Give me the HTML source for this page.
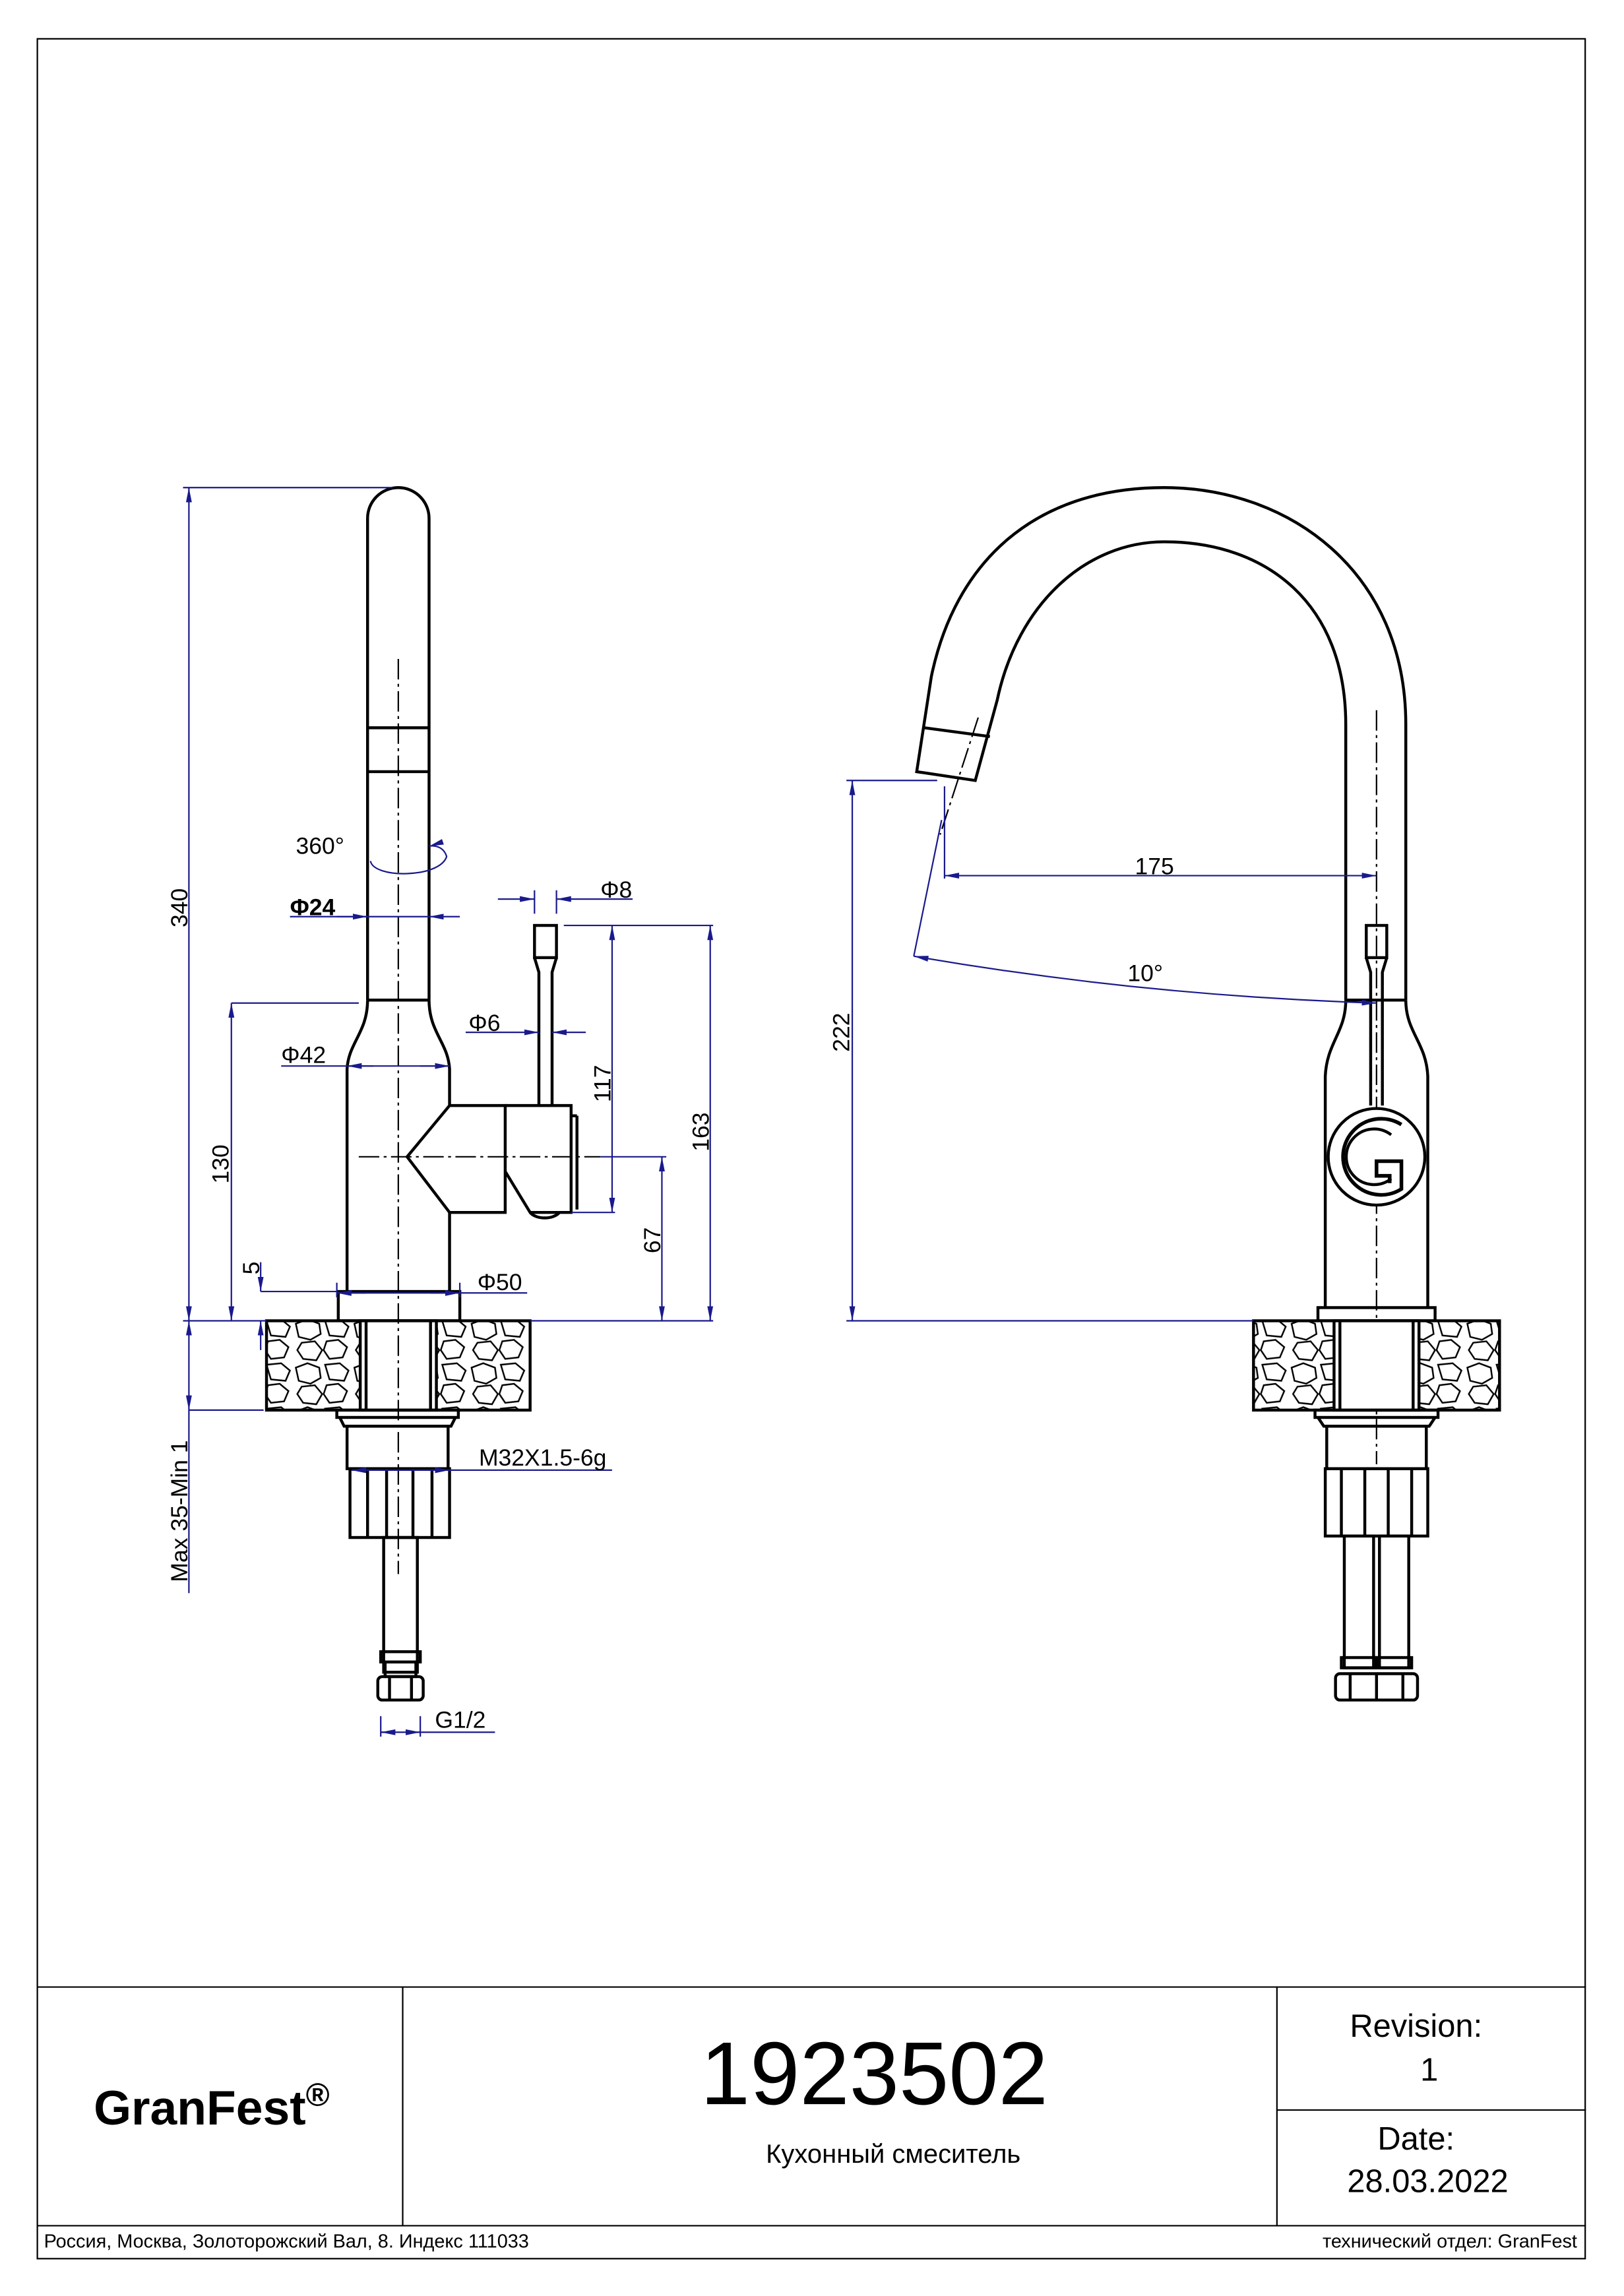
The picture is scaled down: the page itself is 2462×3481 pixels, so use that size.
<!DOCTYPE html>
<html><head><meta charset="utf-8"><style>
html,body{margin:0;padding:0;background:#fff}
svg{display:block}
text{font-family:"Liberation Sans",sans-serif}
</style></head><body>
<svg width="2462" height="3481" viewBox="0 0 1109 1568" xmlns="http://www.w3.org/2000/svg">
<defs>
<marker id="a" viewBox="0 0 10 6" refX="10" refY="3" markerWidth="10" markerHeight="6" orient="auto-start-reverse" markerUnits="userSpaceOnUse"><path d="M0,1 L10,3 L0,5 Z" fill="#1a1a8c"/></marker>
<pattern id="st" width="40" height="30" patternUnits="userSpaceOnUse">
<rect width="40" height="30" fill="#fff"/>
<path d="M2,4 L10,1 L18,4 L19,11 L12,15 L4,13 Z M22,2 L32,1 L38,6 L35,13 L25,12 Z M6,17 L15,16 L20,22 L16,29 L7,28 L3,22 Z M23,16 L31,15 L37,20 L34,27 L25,28 L21,22 Z" fill="none" stroke="#000" stroke-width="1.1"/>
</pattern>
</defs>
<rect width="1109" height="1568" fill="#fff"/>
<g fill="none" stroke="#000" stroke-width="1">
<rect x="25.5" y="26.5" width="1057" height="1516"/>
<line x1="25" y1="1357" x2="1083" y2="1357"/>
<line x1="25" y1="1520" x2="1083" y2="1520"/>
<line x1="275" y1="1357" x2="275" y2="1520"/>
<line x1="872" y1="1357" x2="872" y2="1520"/>
<line x1="872" y1="1441" x2="1083" y2="1441"/>
</g>
<text x="64" y="1451" font-size="33" font-weight="bold">GranFest<tspan font-size="22" dy="-13">®</tspan></text>
<text x="597" y="1437" font-size="61" text-anchor="middle">1923502</text>
<text x="610" y="1477" font-size="18" text-anchor="middle">Кухонный смеситель</text>
<text x="967" y="1391" font-size="22" text-anchor="middle">Revision:</text>
<text x="976" y="1421" font-size="22" text-anchor="middle">1</text>
<text x="967" y="1468" font-size="22" text-anchor="middle">Date:</text>
<text x="975" y="1497" font-size="22" text-anchor="middle">28.03.2022</text>
<text x="30" y="1535" font-size="13">Россия, Москва, Золоторожский Вал, 8. Индекс 111033</text>
<text x="1077" y="1535" font-size="13" text-anchor="end">технический отдел: GranFest</text>

<g fill="none" stroke="#000" stroke-width="2">
<path d="M251,683 L251,354 A21,21 0 0 1 293,354 L293,683"/>
<line x1="251" y1="497" x2="293" y2="497"/>
<line x1="251" y1="527" x2="293" y2="527"/>
<line x1="251" y1="683" x2="293" y2="683"/>
<path d="M251,683 C251,705 238,712 237,730 L237,882"/>
<path d="M293,683 C293,705 306,712 307,730 L307,755"/>
<path d="M307,828 L307,882"/>
<path d="M307,755 L345,755 L345,828 L307,828 L278,790 Z"/>
<path d="M345,755 L390,755 L390,828 L362,828 L345,800"/>
<line x1="390" y1="762" x2="394" y2="762"/><line x1="394" y1="762" x2="394" y2="826"/>
<path d="M362,828 C366,833 378,833 382,828"/>
<rect x="365" y="632" width="15" height="22"/>
<path d="M365,654 L368,664 L368,755 M380,654 L377,664 L377,755"/>
<rect x="231" y="882" width="83" height="20"/>
<rect x="182" y="902" width="180" height="61" fill="url(#st)"/>
<rect x="246" y="902" width="52" height="61" fill="#fff"/>
<line x1="250" y1="902" x2="250" y2="963"/><line x1="294" y1="902" x2="294" y2="963"/>
<rect x="230" y="963" width="83" height="5"/>
<path d="M232,968 L235,974 L308,974 L311,968"/>
<rect x="237" y="974" width="69" height="29"/>
<rect x="239" y="1003" width="68" height="47"/>
<line x1="251" y1="1003" x2="251" y2="1050"/><line x1="295" y1="1003" x2="295" y2="1050"/>
<line x1="264" y1="1003" x2="264" y2="1050"/><line x1="282" y1="1003" x2="282" y2="1050"/>
<rect x="262" y="1050" width="23" height="92"/>
<rect x="260" y="1128" width="27" height="7"/>
<rect x="263" y="1135" width="21" height="10"/>
<rect x="258" y="1145" width="31" height="16" rx="3"/>
<line x1="266" y1="1145" x2="266" y2="1161"/><line x1="281" y1="1145" x2="281" y2="1161"/>
</g>
<g stroke="#000" stroke-width="1" stroke-dasharray="14,3,2,3" fill="none">
<line x1="272" y1="450" x2="272" y2="1075"/>
<line x1="245" y1="790" x2="410" y2="790"/>
<line x1="940" y1="485" x2="940" y2="1000"/>
<line x1="668" y1="490" x2="642" y2="570"/>
</g>
<g stroke="#1a1a8c" stroke-width="1" fill="none">
<line x1="125" y1="333" x2="268" y2="333"/>
<line x1="129" y1="333" x2="129" y2="902" marker-start="url(#a)" marker-end="url(#a)"/>
<line x1="125" y1="902" x2="182" y2="902"/>
<line x1="362" y1="902" x2="487" y2="902"/>
<line x1="158" y1="685" x2="245" y2="685"/>
<line x1="158" y1="685" x2="158" y2="902" marker-start="url(#a)" marker-end="url(#a)"/>
<line x1="178" y1="862" x2="178" y2="882" marker-end="url(#a)"/>
<line x1="178" y1="882" x2="230" y2="882"/>
<line x1="178" y1="922" x2="178" y2="902" marker-end="url(#a)"/>
<line x1="129" y1="902" x2="129" y2="963" marker-start="url(#a)" marker-end="url(#a)"/>
<line x1="129" y1="963" x2="180" y2="963"/>
<line x1="129" y1="963" x2="129" y2="1088"/>
<line x1="198" y1="626" x2="293" y2="626"/>
<line x1="230" y1="626" x2="251" y2="626" marker-end="url(#a)"/><line x1="314" y1="626" x2="293" y2="626" marker-end="url(#a)"/>
<path d="M253,588 C255,600 300,600 305,585 C303,578 296,577 293,578" marker-end="url(#a)"/>
<line x1="192" y1="728" x2="307" y2="728"/>
<line x1="255" y1="728" x2="237" y2="728" marker-end="url(#a)"/><line x1="287" y1="728" x2="307" y2="728" marker-end="url(#a)"/>
<line x1="340" y1="614" x2="365" y2="614" marker-end="url(#a)"/>
<line x1="432" y1="614" x2="380" y2="614" marker-end="url(#a)"/>
<line x1="365" y1="608" x2="365" y2="624"/><line x1="380" y1="608" x2="380" y2="624"/>
<line x1="318" y1="705" x2="368" y2="705" marker-end="url(#a)"/>
<line x1="400" y1="705" x2="377" y2="705" marker-end="url(#a)"/>
<line x1="385" y1="632" x2="487" y2="632"/>
<line x1="418" y1="632" x2="418" y2="828" marker-start="url(#a)" marker-end="url(#a)"/>
<line x1="390" y1="828" x2="420" y2="828"/>
<line x1="485" y1="632" x2="485" y2="902" marker-start="url(#a)" marker-end="url(#a)"/>
<line x1="410" y1="790" x2="455" y2="790"/>
<line x1="452" y1="790" x2="452" y2="902" marker-start="url(#a)" marker-end="url(#a)"/>
<line x1="230" y1="883" x2="360" y2="883"/>
<line x1="250" y1="883" x2="230" y2="883" marker-end="url(#a)"/><line x1="294" y1="883" x2="314" y2="883" marker-end="url(#a)"/>
<line x1="230" y1="876" x2="230" y2="886"/><line x1="314" y1="876" x2="314" y2="886"/>
<line x1="240" y1="1004" x2="418" y2="1004"/>
<line x1="260" y1="1004" x2="240" y2="1004" marker-end="url(#a)"/><line x1="287" y1="1004" x2="307" y2="1004" marker-end="url(#a)"/>
<line x1="260" y1="1183" x2="338" y2="1183"/>
<line x1="260" y1="1172" x2="260" y2="1186"/><line x1="287" y1="1172" x2="287" y2="1186"/>
<line x1="268" y1="1183" x2="260" y2="1183" marker-end="url(#a)"/><line x1="279" y1="1183" x2="287" y2="1183" marker-end="url(#a)"/>
</g>
<g font-size="16" fill="#000">
<text transform="translate(128,620) rotate(-90)" text-anchor="middle">340</text>
<text transform="translate(156,795) rotate(-90)" text-anchor="middle">130</text>
<text transform="translate(177,866) rotate(-90)" text-anchor="middle">5</text>
<text transform="translate(128,1032) rotate(-90)" text-anchor="middle">Max 35-Min 1</text>
<text transform="translate(417,740) rotate(-90)" text-anchor="middle">117</text>
<text transform="translate(484,773) rotate(-90)" text-anchor="middle">163</text>
<text transform="translate(451,847) rotate(-90)" text-anchor="middle">67</text>
<text x="202" y="583">360°</text>
<text x="198" y="625" font-weight="bold">Φ24</text>
<text x="410" y="613">Φ8</text>
<text x="320" y="704">Φ6</text>
<text x="192" y="726">Φ42</text>
<text x="326" y="881">Φ50</text>
<text x="327" y="1001">M32X1.5-6g</text>
<text x="297" y="1180">G1/2</text>
<text x="775" y="597">175</text>
<text x="770" y="670">10°</text>
<text transform="translate(580,705) rotate(-90)" text-anchor="middle">222</text>
</g>

<g fill="none" stroke="#000" stroke-width="2">
<path d="M960,683 L960,495 C960,390 880,333 795,333 C705,333 652,385 636,462 L626,527 L666,533 L681,478 C695,412 742,370 795,370 C865,370 919,412 919,495 L919,683"/>
<line x1="631" y1="497" x2="676" y2="503"/>
<line x1="919" y1="683" x2="960" y2="683"/>
<path d="M919,683 C919,705 906,712 905,735 L905,893"/>
<path d="M960,683 C960,705 974,712 975,735 L975,893"/>
<rect x="933" y="632" width="14" height="22"/>
<path d="M933,654 L936,664 L936,755 M947,654 L944,664 L944,755"/>
<circle cx="940" cy="790" r="33" fill="#fff"/>
<path d="M957,768 A26,26 0 1 0 957,812 L957,793 L940,793 L940,803 L949,803 L949,808" stroke-width="2.5"/>
<path d="M950,775 A19,19 0 1 0 950,805" stroke-width="2"/>
<rect x="900" y="893" width="80" height="9"/>
<rect x="856" y="902" width="168" height="61" fill="url(#st)"/>
<rect x="911" y="902" width="58" height="61" fill="#fff"/>
<line x1="915" y1="902" x2="915" y2="963"/><line x1="965" y1="902" x2="965" y2="963"/>
<rect x="898" y="963" width="84" height="5"/>
<path d="M900,968 L904,974 L976,974 L980,968"/>
<rect x="906" y="974" width="68" height="29"/>
<rect x="905" y="1003" width="70" height="46"/>
<line x1="916" y1="1003" x2="916" y2="1049"/><line x1="964" y1="1003" x2="964" y2="1049"/>
<line x1="932" y1="1003" x2="932" y2="1049"/><line x1="948" y1="1003" x2="948" y2="1049"/>
<rect x="918" y="1049" width="20" height="90"/>
<rect x="942" y="1049" width="20" height="90"/>
<rect x="916" y="1132" width="24" height="7"/><rect x="940" y="1132" width="24" height="7"/>
<rect x="912" y="1143" width="56" height="18" rx="3"/>
<line x1="922" y1="1143" x2="922" y2="1161"/><line x1="940" y1="1143" x2="940" y2="1161"/><line x1="958" y1="1143" x2="958" y2="1161"/>
</g>
<g stroke="#1a1a8c" stroke-width="1" fill="none">
<line x1="578" y1="533" x2="640" y2="533"/>
<line x1="578" y1="902" x2="856" y2="902"/>
<line x1="582" y1="533" x2="582" y2="902" marker-start="url(#a)" marker-end="url(#a)"/>
<line x1="645" y1="537" x2="645" y2="600"/>
<line x1="645" y1="598" x2="940" y2="598" marker-start="url(#a)" marker-end="url(#a)"/>
<line x1="643" y1="560" x2="624" y2="653"/>
<path d="M624,653 Q780,680 940,685" marker-start="url(#a)" marker-end="url(#a)"/>
</g>
</svg>
</body></html>
